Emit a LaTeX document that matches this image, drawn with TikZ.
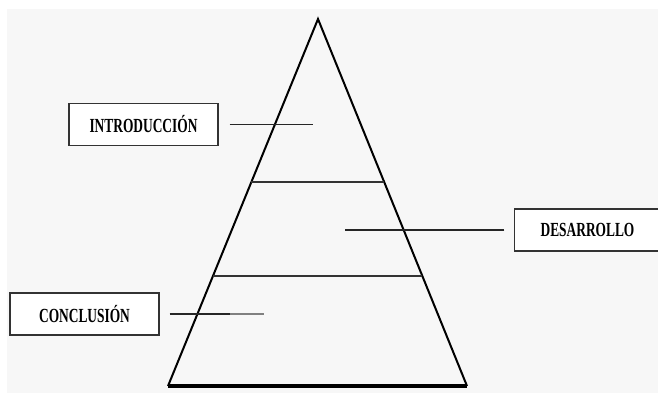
\documentclass[tikz,border=0pt]{standalone}
\usepackage{fontspec}
\newfontfamily\lblfont[FakeStretch=0.67]{Liberation Serif}
\usepackage{xcolor}
\usetikzlibrary{positioning,calc}
\tikzset{
  lblbox/.style={rectangle, draw=black!80, line width=1.1pt, fill=white,
    align=center, font=\lblfont\bfseries\fontsize{20}{22}\selectfont,
    minimum width=149pt, minimum height=42pt, inner sep=2pt},
  side/.style={draw=black, line width=2pt, line join=miter},
  layer/.style={draw=black!80, line width=2.6pt},
  lead/.style={draw=black!85, line width=1.4pt},
}

\begin{document}
\begin{tikzpicture}[x=1pt,y=-1pt]
% ---- page and background ----
\useasboundingbox (0,0) rectangle (658,394);
\fill[white] (0,0) rectangle (658,394);
\fill[black!3] (7,9) rectangle (658,393);
% ---- pyramid ----
\coordinate (apex) at (318,19);
\coordinate (bl) at (168,386);
\coordinate (br) at (467,386);
\draw[side] (bl) -- (apex) -- (br);
\draw[draw=black, line width=3.2pt] (bl) -- (br);
% layer separators
\draw[layer] ($(apex)!0.444!(bl)$) -- ($(apex)!0.444!(br)$);
\draw[layer] ($(apex)!0.700!(bl)$) -- ($(apex)!0.700!(br)$);
% ---- label boxes ----
\node[lblbox] (intro) at (143.5,124.5) {INTRODUCCIÓN};
\node[lblbox, minimum width=146pt] (desa) at (587.5,230) {DESARROLLO};
\node[lblbox] (concl) at (84.5,314) {CONCLUSIÓN};
% ---- leader tips inside the pyramid ----
\coordinate (introtip) at (313,124.5);
\coordinate (desatip) at (345,230);
\coordinate (concltip) at (264,314);
\coordinate (conclmid) at (230,314);
% ---- leaders ----
\draw[lead, shorten <=11pt] (intro.east) -- (introtip);
\draw[lead, shorten <=9.5pt] (desa.west) -- (desatip);
\draw[lead, shorten <=10pt] (concl.east) -- (conclmid);
\draw[lead, draw=black!50] (conclmid) -- (concltip);
\end{tikzpicture}
\end{document}
